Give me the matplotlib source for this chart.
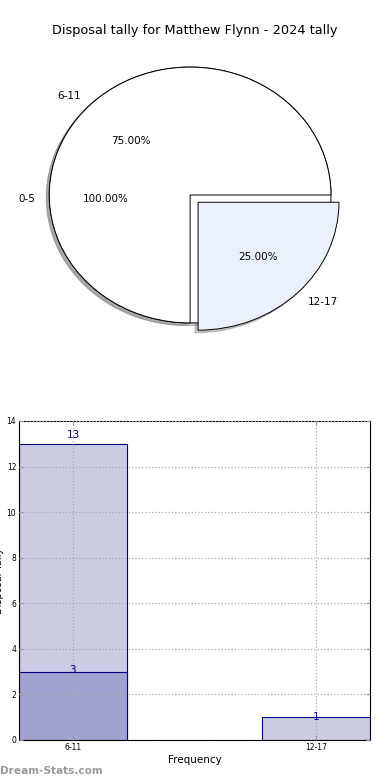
import matplotlib
matplotlib.use('Agg')
import matplotlib.pyplot as plt

title = 'Disposal tally for Matthew Flynn - 2024 tally'

# pie data (drawn as two overlaid pies, like the original)
pie_a_labels = ['0-5']
pie_a_values = [1]
pie_b_labels = ['6-11', '12-17']
pie_b_values = [3, 1]

# bar data
bar_labels = ['6-11', '12-17']
bar_totals = [13, 1]
bar_inner = [3]          # darker overlay bar at 6-11
y_ticks = [0, 2, 4, 6, 8, 10, 12, 14]

fig = plt.figure(figsize=(3.9, 7.8), dpi=100)

# ---- pie ----
shadow = dict(ox=-0.015, oy=-0.015, shade=0.45)
ax1 = fig.add_axes([0.036, 0.545, 0.903, 0.41])
_, txa, pca = ax1.pie(pie_a_values, labels=pie_a_labels, autopct='%1.2f%%', shadow=shadow,
                      colors=['white'], wedgeprops=dict(edgecolor='black', linewidth=0.7),
                      textprops=dict(fontsize=7.5))
for t in txa + pca:
    px, py = t.get_position()
    t.set_position((px, py - 0.035))
ax1.pie(pie_b_values, labels=pie_b_labels, autopct='%1.2f%%', shadow=shadow,
        explode=[0, 0.08], colors=['white', '#ebf1fc'],
        wedgeprops=dict(edgecolor='black', linewidth=0.7),
        textprops=dict(fontsize=7.5))
ax1.set_aspect('auto')
ax1.set_xlim(-1.25, 1.25)
ax1.set_ylim(-1.25, 1.25)
fig.text(0.5, 0.961, title, ha='center', va='center', fontsize=9.3)

# ---- bars ----
ax2 = fig.add_axes([0.0487, 0.0513, 0.9, 0.409])
x = list(range(len(bar_labels)))
w = 0.444
ax2.bar(x, bar_totals, width=w, color='#ccccE5', edgecolor='#000080', linewidth=0.8)
ax2.bar(x[:len(bar_inner)], bar_inner, width=w, color='#a2a2d0', edgecolor='#000080', linewidth=0.8)
for xi, v in list(zip(x, bar_totals)) + list(zip(x, bar_inner)):
    ax2.text(xi, v * 1.03, str(v), ha='center', va='center', color='#000080', fontsize=7.5)

ax2.set_xlim(-w / 2, 1 + w / 2)
ax2.set_ylim(0, 14)
ax2.set_yticks(y_ticks)
ax2.set_xticks(x)
ax2.set_xticklabels(bar_labels)
ax2.tick_params(labelsize=5.5, direction='in', top=True, right=True, length=3,
                color='#999999', pad=2)
ax2.grid(True, linestyle=':', color='#aaaaaa', linewidth=0.9)
ax2.set_axisbelow(False)
ax2.set_xlabel('Frequency', fontsize=7.5, labelpad=2)
ax2.set_ylabel('Disposal Tally', fontsize=7, labelpad=2)
for s in ax2.spines.values():
    s.set_linewidth(0.8)

fig.text(0.0, 0.012, 'Dream-Stats.com', color='#999999', fontsize=7.6,
         fontweight='bold', ha='left', va='center')

fig.savefig('out.png', dpi=100)
